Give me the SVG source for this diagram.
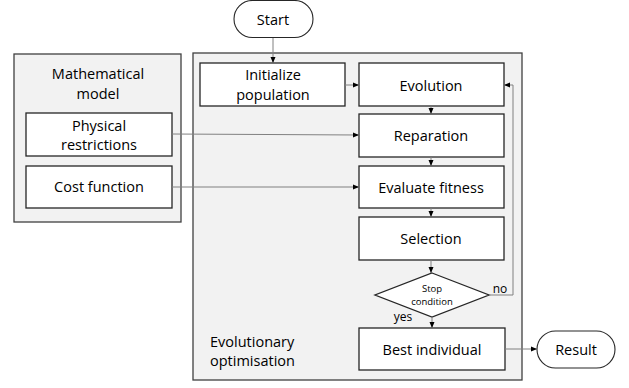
<svg xmlns="http://www.w3.org/2000/svg" width="629" height="388" viewBox="0 0 629 388">
<defs>
<style>
text{font-family:"Open Sans","Liberation Sans",sans-serif;fill:#000;text-anchor:middle;font-size:14.5px}
.grp{fill:#f2f2f2;stroke:#404040;stroke-width:1.3}
.box{fill:#fff;stroke:#262626;stroke-width:1.3}
.term{fill:#fff;stroke:#262626;stroke-width:1.1}
.con{fill:none;stroke:#808080;stroke-width:1}
.sm{font-size:9.5px}
.lbl{font-size:12px}
</style>
<marker id="ah" viewBox="0 0 6 6" refX="6" refY="3" markerWidth="6" markerHeight="6" markerUnits="userSpaceOnUse" orient="auto">
<path d="M0,0.5 L6,3 L0,5.5 Z" fill="#000"/>
</marker>
</defs>
<g id="math-model">
<rect class="grp" x="14" y="54" width="167" height="168"/>
<text x="98" y="79">Mathematical</text>
<text x="98" y="99">model</text>
</g>
<g id="evo-opt">
<rect class="grp" x="193" y="53" width="329" height="327"/>
<text x="210" y="347" style="text-anchor:start">Evolutionary</text>
<text x="210" y="366" style="text-anchor:start">optimisation</text>
</g>
<g id="start">
<rect class="term" x="234" y="0.5" width="79" height="37" rx="18.5"/>
<text x="273" y="25">Start</text>
</g>
<g id="physical">
<rect class="box" x="26" y="113" width="146" height="43"/>
<text x="99" y="131">Physical</text>
<text x="99" y="150">restrictions</text>
</g>
<g id="cost">
<rect class="box" x="26" y="166" width="146" height="42"/>
<text x="99" y="192">Cost function</text>
</g>
<g id="init">
<rect class="box" x="200" y="63" width="145" height="43"/>
<text x="273" y="80">Initialize</text>
<text x="273" y="100">population</text>
</g>
<g id="evolution">
<rect class="box" x="359" y="63" width="145" height="43"/>
<text x="431" y="91">Evolution</text>
</g>
<g id="reparation">
<rect class="box" x="359" y="114" width="145" height="43"/>
<text x="431" y="141">Reparation</text>
</g>
<g id="evaluate">
<rect class="box" x="359" y="166" width="145" height="42"/>
<text x="431" y="193">Evaluate fitness</text>
</g>
<g id="selection">
<rect class="box" x="359" y="217" width="145" height="43"/>
<text x="431" y="244">Selection</text>
</g>
<g id="stop">
<polygon class="box" points="432,273 489,295 432,317 375,295"/>
<text class="sm" x="432" y="292">Stop</text>
<text class="sm" x="432" y="305">condition</text>
</g>
<g id="best">
<rect class="box" x="359" y="328" width="146" height="42"/>
<text x="432" y="355">Best individual</text>
</g>
<g id="result">
<rect class="term" x="537" y="331" width="78" height="37" rx="18.5"/>
<text x="576" y="355">Result</text>
</g>
<g id="connectors">
<path class="con" d="M273,38 V63" marker-end="url(#ah)"/>
<path class="con" d="M345,85 H359" marker-end="url(#ah)"/>
<path class="con" d="M431,106 V114" marker-end="url(#ah)"/>
<path class="con" d="M431,157 V166" marker-end="url(#ah)"/>
<path class="con" d="M431,208 V217" marker-end="url(#ah)"/>
<path class="con" d="M431,260 V273" marker-end="url(#ah)"/>
<path class="con" d="M432,317 V328" marker-end="url(#ah)"/>
<path class="con" d="M172,134 L359,135" marker-end="url(#ah)"/>
<path class="con" d="M172,187 H359" marker-end="url(#ah)"/>
<path class="con" d="M489,295 H513 V85 H504" marker-end="url(#ah)"/>
<path class="con" d="M505,349 H537" marker-end="url(#ah)"/>
<text class="lbl" x="500" y="293">no</text>
<text class="lbl" x="403" y="321">yes</text>
</g>
</svg>
